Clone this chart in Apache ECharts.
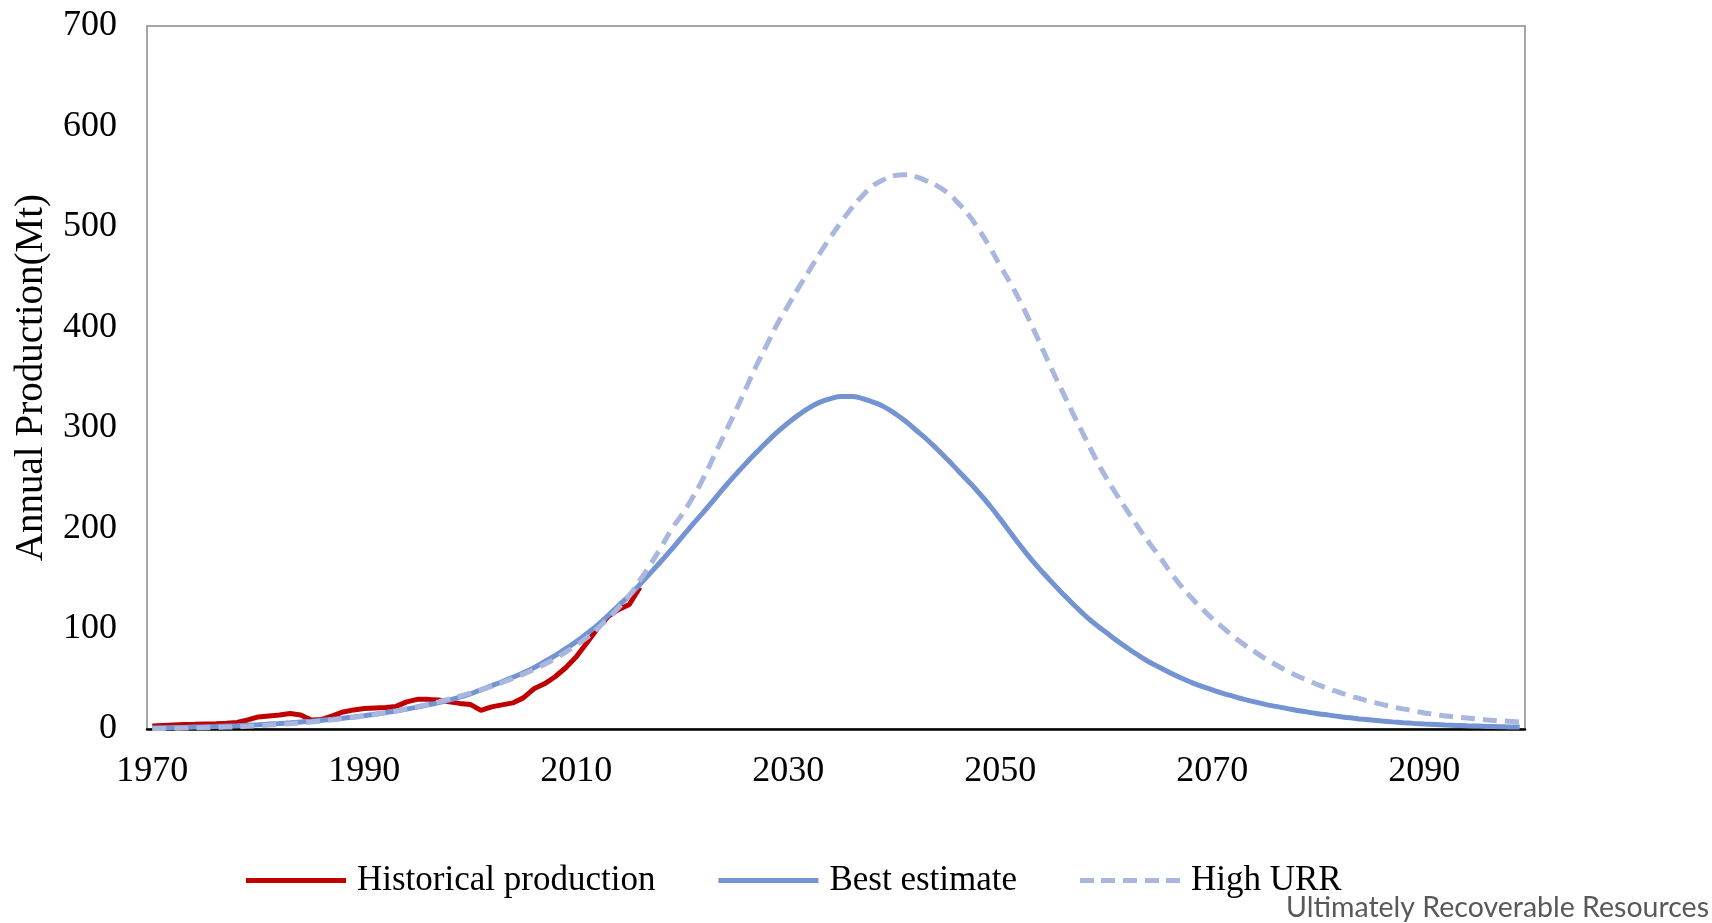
<!DOCTYPE html>
<html>
<head>
<meta charset="utf-8">
<script src="https://cdn.jsdelivr.net/npm/echarts@6/dist/echarts.min.js"></script>
<style>html,body{margin:0;padding:0;background:#fff;}#c{width:1712px;height:923px;}</style>
</head>
<body>
<div id="c"></div>
<script>
// Years 1970..2099 (category axis)
const years = [];
for (let y = 1970; y <= 2099; y++) years.push(String(y));

// Historical production 1970..2016 (Mt)
const historical = [3,3.5,4,4.5,4.7,5,5.3,5.7,6.5,9,
  12,13,14,15.5,14,9,9.5,13,17,19,
  20.5,21,21.5,22.5,27,29.5,29.5,29,27,25.5,
  24.5,18.5,22,24,26,31,40,45,52,61,
  72,86,100,112,119,124,141];

// Best estimate 1970..2099 (Mt)
const bestEstimate = [1.0,1.2,1.4,1.6,1.9,2.2,2.5,2.9,3.3,3.8,
  4.3,4.9,5.5,6.2,7.0,7.8,8.7,9.7,10.8,12.0,
  13.3,14.7,16.3,18.0,19.8,21.8,24.0,26.3,28.8,31.8,
  35,39,43,47,51.5,56,61,67,73,80,
  87,95,103.5,113,123,133,144,155.5,167,179,
  191.5,204,216,228.5,241,253,264.5,275.5,286,296,
  305,313,320,325.5,329,331,331,329,325.5,321,
  314.5,307,298,289,279,268.5,257.5,246.5,235,222.5,
  209,195,181,168,156,144.5,133.5,123,113,104,
  96,88,80.5,73.5,67,61.5,56,51,46.5,42.5,
  39,35.5,32.5,29.5,27,24.5,22.5,20.5,18.5,16.8,
  15.2,13.8,12.4,11.1,10,9,8,7.1,6.3,5.6,
  5,4.5,4,3.6,3.2,2.9,2.6,2.3,2.1,1.9];

// High URR 1970..2099 (Mt)
const highURR = [0.5,0.6,0.7,0.9,1.1,1.3,1.6,1.9,2.3,2.8,
  3.3,3.9,4.6,5.3,6.1,7.0,8.0,9.1,10.3,11.6,
  13.0,14.5,16.2,18.0,20.0,22.2,24.5,27.0,29.7,32.6,
  35.7,39.0,42.5,46.3,50.3,54.6,59.3,64.5,70.2,76.5,
  83.5,91,100,110,121,133,148,164,181,199,
  214,231,250,272,294,316,339,362,383,404,
  422,440,457,474,490,505,519,531,541,547,
  551,552,550,546,541,534,524,512,497,480,
  461,443,423,401,378,355,333,311,290,269,
  250,233,217,201,186,172,157,143,131,120,
  110,101,92,84,77,70,64,58,53,48.5,
  44,40,36.5,33,30,27,24.5,22,20,18,
  16,14.5,13,12,11,10,9,8.3,7.6,7];

const seriesNames = ['Historical production', 'Best estimate', 'High URR'];
const yTicks = [0, 100, 200, 300, 400, 500, 600, 700];

const serif = '"Liberation Serif", "Times New Roman", serif';
const solidIcon = 'path://M0,0H100V5H0Z';
const dashIcon = 'path://M0,0H14V5H0Z M21,0H35V5H21Z M43,0H57V5H43Z M65,0H79V5H65Z M86,0H100V5H86Z';

const chart = echarts.init(document.getElementById('c'), null, {renderer: 'canvas'});
chart.setOption({
  animation: false,
  backgroundColor: '#ffffff',
  grid: {left: 147, right: 187, top: 26, bottom: 194, show: true, borderColor: '#8a8a8a', borderWidth: 1.5, backgroundColor: 'transparent'},
  legend: {
    data: [
      {name: seriesNames[0], icon: solidIcon},
      {name: seriesNames[1], icon: solidIcon},
      {name: seriesNames[2], icon: dashIcon}
    ],
    left: 241, top: 858,
    itemWidth: 100, itemHeight: 5, itemGap: 63,
    textStyle: {fontFamily: serif, fontSize: 35, color: '#000', padding: [0, 0, 0, 6]}
  },
  xAxis: {
    type: 'category',
    data: years,
    boundaryGap: true,
    axisLine: {show: true, lineStyle: {color: '#000', width: 2.5}},
    axisTick: {show: false},
    axisLabel: {interval: 19, fontFamily: serif, fontSize: 36, color: '#000', margin: 25},
    splitLine: {show: false}
  },
  yAxis: {
    type: 'value',
    min: yTicks[0], max: yTicks[yTicks.length - 1], interval: 100,
    name: 'Annual Production(Mt)',
    nameLocation: 'middle',
    nameGap: 96,
    nameTextStyle: {fontFamily: serif, fontSize: 39, color: '#000'},
    axisLine: {show: false},
    axisTick: {show: false},
    axisLabel: {fontFamily: serif, fontSize: 36, color: '#000', margin: 30},
    splitLine: {show: false}
  },
  series: [
    {name: seriesNames[0], type: 'line', data: historical, symbol: 'none', smooth: false,
     lineStyle: {color: '#C00000', width: 5}, itemStyle: {color: '#C00000'}},
    {name: seriesNames[1], type: 'line', data: bestEstimate, symbol: 'none', smooth: true,
     lineStyle: {color: '#7393D3', width: 5}, itemStyle: {color: '#7393D3'}},
    {name: seriesNames[2], type: 'line', data: highURR, symbol: 'none', smooth: true,
     lineStyle: {color: '#A9B7DE', width: 5, type: [14, 8]}, itemStyle: {color: '#A9B7DE'}}
  ],
  graphic: [{
    type: 'text', right: 3, top: 893,
    style: {text: 'Ultimately Recoverable Resources', font: '28.5px Lato, "Open Sans", sans-serif', fill: '#595959'}
  }]
});
</script>
</body>
</html>
